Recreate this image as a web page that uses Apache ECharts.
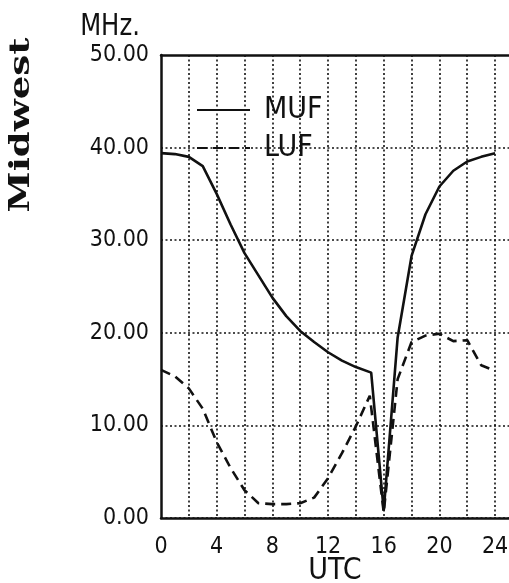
<!DOCTYPE html>
<html>
<head>
<meta charset="utf-8">
<script src="https://cdn.jsdelivr.net/npm/echarts@6/dist/echarts.min.js"></script>
<style>
html,body{margin:0;padding:0;background:#fff;}
#c{width:509px;height:583px;}
</style>
</head>
<body>
<div id="c"></div>
<script>
// UTC hours and frequencies (MHz)
var mufHours = [0,1,2,3,4,5,6,7,8,9,10,11,12,13,14,15.1,16,17,18,19,20,21,22,23,24];
var mufValues = [39.4,39.3,39.0,38.0,35.0,31.7,28.6,26.2,23.8,21.8,20.2,19.0,17.9,17.0,16.3,15.7,0.8,19.5,28.3,32.8,35.8,37.5,38.5,39.0,39.4];
var lufHours = [0,1,2,3,4,5,6,7,8,9,10,11,12,13,14,15,16,17,18,19,20,21,22,23,24];
var lufValues = [16.0,15.3,14.0,11.8,8.2,5.4,3.0,1.6,1.5,1.5,1.6,2.2,4.3,7.0,9.9,13.2,0.6,15.0,19.0,19.7,19.9,19.1,19.2,16.5,15.9];
var xTicks = [0,4,8,12,16,20,24];
var yTicks = [0,10,20,30,40,50];
var seriesNames = ['MUF','LUF'];
var yUnit = 'MHz.';
var xName = 'UTC';
var regionName = 'Midwest';

function pairs(xs, ys){ return xs.map(function(x,i){ return [x, ys[i]]; }); }

var FONT = '"DejaVu Sans Condensed","Liberation Sans Narrow",sans-serif';
var chart = echarts.init(document.getElementById('c'), null, {renderer:'canvas'});
var gridDot = {type:[2,2.5], color:'#111', width:1.6};
var hidden = 'rgba(0,0,0,0)';

chart.setOption({
  animation:false,
  backgroundColor:'#fff',
  grid:{left:161, top:55, right:0, bottom:65, containLabel:false, outerBoundsMode:'none'},
  legend:{
    orient:'vertical', left:191, top:90, itemWidth:53, itemHeight:30, itemGap:8,
    data:seriesNames,
    itemStyle:{color:hidden, borderColor:hidden, borderWidth:0, opacity:0},
    textStyle:{fontFamily:FONT, fontSize:30, color:'#111', lineHeight:30, padding:[0,0,0,9]}
  },
  xAxis:[{
    type:'value', min:0, max:25, interval:2,
    name:xName, nameLocation:'middle', nameGap:38, nameMoveOverlap:false,
    nameTextStyle:{fontFamily:FONT, fontSize:30, color:'#111'},
    axisLine:{show:true, lineStyle:{color:'#111', width:2.5}},
    axisTick:{show:false},
    axisLabel:{margin:18, fontFamily:FONT, fontSize:23, color:'#111',
      formatter:function(v){ return xTicks.indexOf(v) >= 0 ? String(v) : ''; }},
    splitLine:{show:true, showMinLine:false, showMaxLine:false, lineStyle:gridDot}
  },{
    type:'value', position:'top', min:0, max:25,
    axisLine:{show:true, lineStyle:{color:'#111', width:2.5}},
    axisTick:{show:false}, axisLabel:{show:false}, splitLine:{show:false}
  }],
  yAxis:{
    type:'value', min:0, max:50, interval:10,
    axisLine:{show:true, lineStyle:{color:'#111', width:2.5}},
    axisTick:{show:false},
    axisLabel:{margin:12, fontFamily:FONT, fontSize:23, color:'#111',
      formatter:function(v){ return yTicks.indexOf(v) >= 0 ? v.toFixed(2) : ''; }},
    splitLine:{show:true, showMaxLine:false, lineStyle:gridDot}
  },
  graphic:[
    {type:'text', x:110, y:27, scaleY:1.1,
     style:{text:yUnit, font:'27px ' + FONT, fill:'#111', align:'center', verticalAlign:'middle'}},
    {type:'text', x:22, y:125, rotation:Math.PI/2, scaleX:1.35,
     style:{text:regionName, font:'bold 27.5px "DejaVu Serif",serif', fill:'#111', align:'center', verticalAlign:'middle'}}
  ],
  series:[
    {name:seriesNames[0], type:'line', xAxisIndex:0, data:pairs(mufHours,mufValues), symbol:'none',
     lineStyle:{color:'#111', width:2.6, type:'solid'}, itemStyle:{color:'#111'}},
    {name:seriesNames[1], type:'line', xAxisIndex:0, data:pairs(lufHours,lufValues), symbol:'none',
     lineStyle:{color:'#111', width:2.6, type:[10,6]}, itemStyle:{color:'#111'}}
  ]
});
</script>
</body>
</html>
